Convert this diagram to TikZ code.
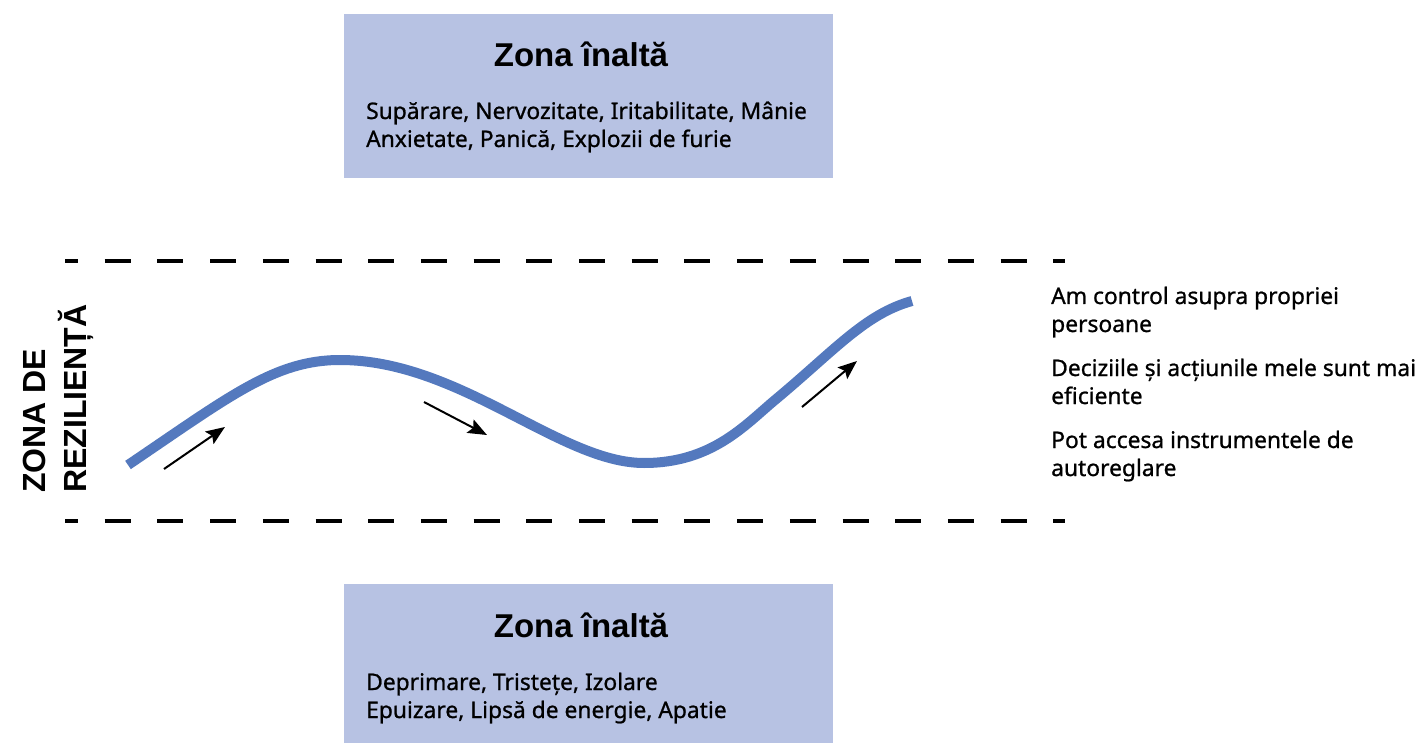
\documentclass[tikz,border=0pt]{standalone}
\usepackage{fontspec}
\setmainfont{Liberation Sans}
\newfontfamily\bodyfont{Noto Sans}[FakeBold=0.9]
\usetikzlibrary{arrows.meta}
\definecolor{boxfill}{HTML}{B7C2E3}
\definecolor{curveblue}{HTML}{5479BE}
\tikzset{
  zonebox/.style={fill=boxfill, draw=none},
  zonetitle/.style={anchor=base, inner sep=0pt, font=\fontsize{33}{38}\bfseries\selectfont},
  bodytext/.style={anchor=base west, inner sep=0pt, font=\bodyfont\fontsize{22.8}{26}\selectfont},
  sidetext/.style={anchor=base west, inner sep=0pt, rotate=90, font=\fontsize{32}{38}\bfseries\selectfont},
  boundary/.style={line width=4pt, dash pattern=on 26pt off 26.7pt, dash phase=13pt},
  wave/.style={line width=10pt, draw=curveblue},
  flow/.style={line width=2pt, -{Stealth[length=19pt,width=15pt,inset=3.5pt]}}
}
\begin{document}
\begin{tikzpicture}[x=1pt,y=-1pt]
\useasboundingbox (0,0) rectangle (1424,743);
% boxes
\fill[zonebox] (344,14) rectangle (833,178);
\fill[zonebox] (344,584) rectangle (833,743);
\node[zonetitle] (t1) at (581,67) {Zona înaltă};
\node[bodytext] (t1a) at (366,119) {Supărare, Nervozitate, Iritabilitate, Mânie};
\node[bodytext] (t1b) at (366,147) {Anxietate, Panică, Explozii de furie};
\node[zonetitle] (t2) at (581,637) {Zona înaltă};
\node[bodytext] (t2a) at (366,690) {Deprimare, Tristețe, Izolare};
\node[bodytext] (t2b) at (366,718) {Epuizare, Lipsă de energie, Apatie};
% dashed boundaries
\coordinate (dtl) at (65,261);
\coordinate (dtr) at (1065,261);
\coordinate (dbl) at (65,521);
\coordinate (dbr) at (1065,521);
\draw[boundary] (dtl) -- (dtr);
\draw[boundary] (dbl) -- (dbr);
% side label
\node[sidetext] (s1) at (45,493) {ZONA DE};
\node[sidetext] (s2) at (86,493) {REZILIENȚĂ};
% right text
\node[bodytext] (r1) at (1051,304) {Am control asupra propriei};
\node[bodytext] (r2) at (1051,332) {persoane};
\node[bodytext] (r3) at (1051,376) {Deciziile și acțiunile mele sunt mai};
\node[bodytext] (r4) at (1051,404) {eficiente};
\node[bodytext] (r5) at (1051,448) {Pot accesa instrumentele de};
\node[bodytext] (r6) at (1051,476) {autoreglare};
% wave
\coordinate (w0) at (128,465);
\coordinate (w1) at (340,360);
\coordinate (w2) at (644,463);
\coordinate (w3) at (775,400);
\coordinate (w4) at (912,301);
\draw[wave] (w0) .. controls (230,396) and (275,360) .. (w1)
  .. controls (460,360) and (560,463) .. (w2)
  .. controls (712,463) and (745,425) .. (w3)
  .. controls (835,350) and (865,314) .. (w4);
% arrows
\coordinate (a1s) at (164,469);
\coordinate (a1e) at (225,427);
\coordinate (a2s) at (424,402);
\coordinate (a2e) at (487,435);
\coordinate (a3s) at (802,407);
\coordinate (a3e) at (857,361);
\draw[flow] (a1s) -- (a1e);
\draw[flow] (a2s) -- (a2e);
\draw[flow] (a3s) -- (a3e);
\end{tikzpicture}
\end{document}
